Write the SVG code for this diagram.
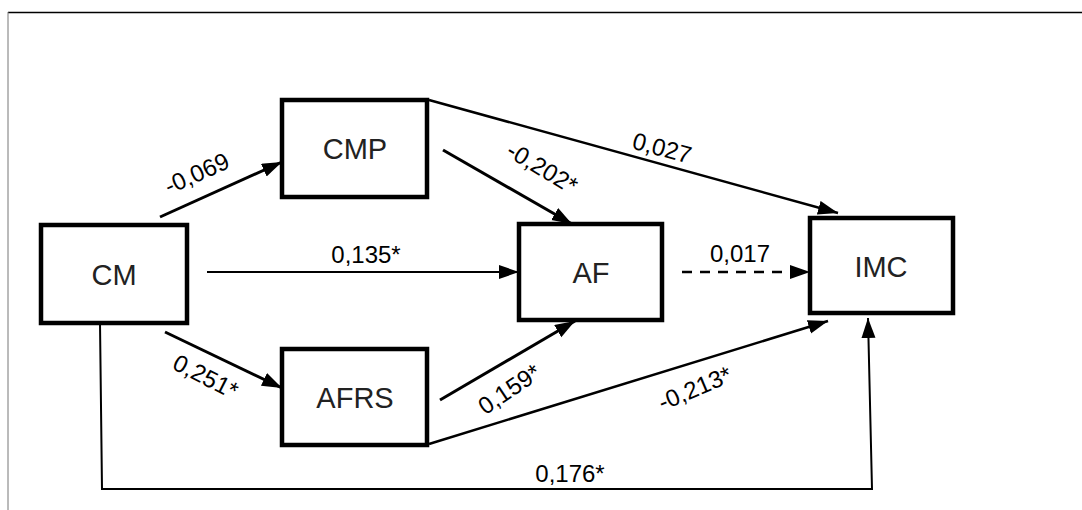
<svg xmlns="http://www.w3.org/2000/svg" width="1082" height="510" viewBox="0 0 1082 510">
<style>
.box{fill:#fff;stroke:#000;stroke-width:4.5}
.nl{font-family:"Liberation Sans",Arial,sans-serif;font-size:29px;fill:#222;text-anchor:middle}
.el{font-family:"Liberation Sans",Arial,sans-serif;font-size:24px;fill:#000;text-anchor:middle}
.c{fill:none;stroke:#000}
</style>
<defs>
<marker id="ah" markerUnits="userSpaceOnUse" markerWidth="22" markerHeight="16" refX="20" refY="7" orient="auto">
<path d="M0,0 L20,7 L0,14 z" fill="#000"/>
</marker>
</defs>
<rect width="1082" height="510" fill="#fff"/>
<g id="frame">
<line x1="8" y1="12.5" x2="1082" y2="12.5" stroke="#000" stroke-width="1.5"/>
<line x1="8" y1="12" x2="8" y2="510" stroke="#777" stroke-width="1"/>
</g>
<g id="connectors">
<line class="c" x1="160" y1="217" x2="282" y2="162" stroke-width="3" marker-end="url(#ah)"/>
<line class="c" x1="207" y1="272" x2="519" y2="272" stroke-width="2" marker-end="url(#ah)"/>
<line class="c" x1="165" y1="332" x2="282" y2="388" stroke-width="3" marker-end="url(#ah)"/>
<line class="c" x1="443" y1="150" x2="572" y2="224" stroke-width="3" marker-end="url(#ah)"/>
<line class="c" x1="440" y1="400" x2="575" y2="321" stroke-width="3" marker-end="url(#ah)"/>
<line class="c" x1="429" y1="100" x2="838" y2="213" stroke-width="2.5" marker-end="url(#ah)"/>
<line class="c" x1="682" y1="272" x2="810" y2="272" stroke-width="2.5" stroke-dasharray="10,8" marker-end="url(#ah)"/>
<line class="c" x1="429" y1="444" x2="828" y2="321" stroke-width="2.5" marker-end="url(#ah)"/>
<polyline class="c" points="100,323 102,489 872,489 868,318" stroke-width="2" marker-end="url(#ah)"/>
</g>
<g id="labels">
<text class="el" transform="translate(200,181) rotate(-24)">-0,069</text>
<text class="el" transform="translate(202,384) rotate(27)">0,251*</text>
<text class="el" x="366" y="263">0,135*</text>
<text class="el" transform="translate(538,175) rotate(31)">-0,202*</text>
<text class="el" transform="translate(660,156) rotate(15)">0,027</text>
<text class="el" x="740" y="262">0,017</text>
<text class="el" transform="translate(514,396) rotate(-34)">0,159*</text>
<text class="el" transform="translate(698,396) rotate(-23)">-0,213*</text>
<text class="el" x="570" y="482">0,176*</text>
</g>
<g id="CM"><rect class="box" x="41" y="225" width="146" height="98"/><text class="nl" x="114" y="285">CM</text></g>
<g id="CMP"><rect class="box" x="282" y="100" width="145" height="97"/><text class="nl" x="355" y="159">CMP</text></g>
<g id="AF"><rect class="box" x="519" y="224" width="143" height="96"/><text class="nl" x="591" y="283">AF</text></g>
<g id="AFRS"><rect class="box" x="282" y="349" width="145" height="96"/><text class="nl" x="355" y="408">AFRS</text></g>
<g id="IMC"><rect class="box" x="810" y="218" width="143" height="95"/><text class="nl" x="881" y="277">IMC</text></g>
</svg>
